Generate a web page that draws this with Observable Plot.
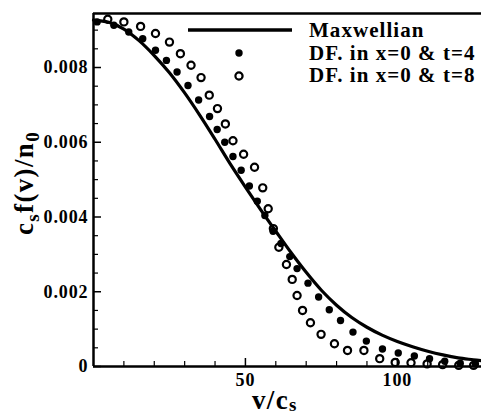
<!DOCTYPE html>
<html>
<head>
<meta charset="utf-8">
<script src="https://cdn.jsdelivr.net/npm/d3@7"></script>
<script src="https://cdn.jsdelivr.net/npm/@observablehq/plot@0.6"></script>
<style>
  html, body { margin: 0; padding: 0; background: #fff; }
  svg text { letter-spacing: 0.05em; }
</style>
</head>
<body>
<div id="chart"></div>
<script>
// ---- data ----
const maxV = [0, 5, 10, 15, 20, 25, 30, 35, 40, 45, 50, 55, 60, 65, 70, 75, 80, 85, 90, 95, 100, 105, 110, 115, 120, 125, 128];
const maxF = [0.00927, 0.00921, 0.00903, 0.00872, 0.00832, 0.00786, 0.00732, 0.00672, 0.00608, 0.00542, 0.00480, 0.00420, 0.00362, 0.00305, 0.00252, 0.00204, 0.00164, 0.00131, 0.00105, 0.00084, 0.00067, 0.00053, 0.00041, 0.00031, 0.00023, 0.00018, 0.00015];

const t4V = [1.2, 6.7, 11.6, 16.2, 20.4, 24.0, 27.5, 31.1, 34.6, 38.2, 40.7, 43.2, 45.9, 48.6, 51.3, 53.9, 56.4, 59.1, 61.7, 64.6, 67.0, 70.6, 74.1, 77.6, 81.3, 85.4, 89.8, 95.1, 100.3, 105.6, 110.6, 115.6, 120.7, 125.7];
const t4F = [0.00922, 0.00913, 0.00895, 0.00877, 0.00846, 0.00819, 0.00788, 0.00752, 0.00713, 0.00669, 0.00634, 0.00600, 0.00562, 0.00525, 0.00483, 0.00442, 0.00404, 0.00362, 0.00329, 0.00294, 0.00262, 0.00223, 0.00186, 0.00152, 0.00123, 0.00092, 0.00068, 0.00047, 0.00036, 0.00028, 0.00021, 0.00014, 0.00009, 0.00007];

const t8V = [4.7, 10.0, 15.5, 20.4, 25.0, 28.6, 32.1, 35.4, 38.1, 40.8, 43.4, 45.9, 49.4, 53.0, 55.7, 57.5, 59.2, 61.0, 63.5, 65.4, 67.0, 68.8, 71.4, 74.9, 79.3, 83.6, 89.0, 94.2, 99.3, 104.5, 109.8, 114.9, 120.2, 125.1];
const t8F = [0.00929, 0.00922, 0.00910, 0.00891, 0.00868, 0.00837, 0.00806, 0.00773, 0.00726, 0.00690, 0.00649, 0.00604, 0.00568, 0.00533, 0.00478, 0.00422, 0.00369, 0.00319, 0.00273, 0.00233, 0.00190, 0.00150, 0.00117, 0.00086, 0.00061, 0.00043, 0.00043, 0.00021, 0.00011, 0.00010, 0.00007, 0.00005, 0.00003, 0.00003];

const xDomain = [0, 127.7];
const yDomain = [0, 0.009445];
const xMajor = [50, 100];
const xTickLabels = ["50", "100"];
const xMinor = [10, 20, 30, 40, 60, 70, 80, 90, 110, 120];
const yMajor = [0, 0.002, 0.004, 0.006, 0.008];
const yTickLabels = ["0", "0.002", "0.004", "0.006", "0.008"];
const yMinor = [0.0005, 0.001, 0.0015, 0.0025, 0.003, 0.0035, 0.0045, 0.005, 0.0055, 0.0065, 0.007, 0.0075, 0.0085, 0.009];
const legendLabels = ["Maxwellian", "DF. in x=0 & t=4", "DF. in x=0 & t=8"];

const maxwell = maxV.map((v, i) => ({v, f: maxF[i]}));
const t4 = t4V.map((v, i) => ({v, f: t4F[i]}));
const t8 = t8V.map((v, i) => ({v, f: t8F[i]}));

// ---- layout ----
const W = 481, H = 414;
const mL = 93, mT = 13, mB = 48, mR = 0;
const fw = W - mL - mR, fh = H - mT - mB;
const FONT = "'Liberation Serif', 'Times New Roman', serif";

const svg = Plot.plot({
  width: W, height: H,
  marginLeft: mL, marginTop: mT, marginBottom: mB, marginRight: mR,
  x: {domain: xDomain, axis: null},
  y: {domain: yDomain, axis: null},
  style: {fontFamily: FONT, fontWeight: "bold", fontSize: "18px", background: "#fff", color: "#000"},
  marks: [
    // tick marks (inward)
    Plot.tickY(yMajor, {y: d => d, insetRight: fw - 8, strokeWidth: 1.5}),
    Plot.tickY(yMinor, {y: d => d, insetRight: fw - 5, strokeWidth: 1.2}),
    Plot.tickX(xMajor, {x: d => d, insetTop: fh - 8, strokeWidth: 1.5}),
    Plot.tickX(xMinor, {x: d => d, insetTop: fh - 5, strokeWidth: 1.2}),
    // tick labels
    Plot.axisY(yMajor, {tickSize: 0, tickPadding: 5, tickFormat: (d, i) => yTickLabels[i], label: null, fontSize: 18, fontWeight: "bold"}),
    Plot.axisX(xMajor, {tickSize: 0, tickPadding: 7, tickFormat: (d, i) => xTickLabels[i], label: null, fontSize: 18, fontWeight: "bold"}),
    // data
    Plot.line(maxwell, {x: "v", y: "f", stroke: "#000", strokeWidth: 3.2, curve: "catmull-rom"}),
    Plot.dot(t4, {x: "v", y: "f", r: 3.7, fill: "#000", stroke: "none"}),
    Plot.dot(t8, {x: "v", y: "f", r: 3.6, fill: "none", stroke: "#000", strokeWidth: 2.2}),
    // frame (left, bottom, top)
    Plot.ruleX([xDomain[0]], {strokeWidth: 2.5}),
    Plot.ruleY(yDomain, {strokeWidth: 2.5})
  ]
});

const s = d3.select(svg);

// legend
const lg = s.append("g").attr("font-family", FONT).attr("font-weight", "bold").attr("font-size", 21).attr("text-anchor", "start");
lg.append("line").attr("x1", 188).attr("x2", 292).attr("y1", 30).attr("y2", 30)
  .attr("stroke", "#000").attr("stroke-width", 3.5);
lg.append("circle").attr("cx", 239).attr("cy", 53).attr("r", 3.7).attr("fill", "#000");
lg.append("circle").attr("cx", 239).attr("cy", 76).attr("r", 3.6).attr("fill", "none").attr("stroke", "#000").attr("stroke-width", 2.2);
const baselines = [37, 59.5, 82];
legendLabels.forEach((t, i) => {
  lg.append("text").attr("x", 309).attr("y", baselines[i]).attr("text-anchor", "start")
    .attr("letter-spacing", "0.07em").text(t);
});

// x axis label: v/c_s
const xl = s.append("text").attr("x", 252).attr("y", 409).attr("text-anchor", "start")
  .attr("font-family", FONT).attr("font-weight", "bold").attr("font-size", 27);
xl.append("tspan").text("v/c");
xl.append("tspan").attr("font-size", 19).attr("dy", 2).text("s");

// y axis label: c_s f(v)/n_0
const yl = s.append("text").attr("transform", "translate(33,183) rotate(-90)")
  .attr("text-anchor", "middle")
  .attr("font-family", FONT).attr("font-weight", "bold").attr("font-size", 27);
yl.append("tspan").text("c");
yl.append("tspan").attr("font-size", 19).attr("dy", 6).text("s");
yl.append("tspan").attr("dy", -6).text("f(v)/n");
yl.append("tspan").attr("font-size", 19).attr("dy", 6).text("0");

document.getElementById("chart").appendChild(svg);
</script>
</body>
</html>
